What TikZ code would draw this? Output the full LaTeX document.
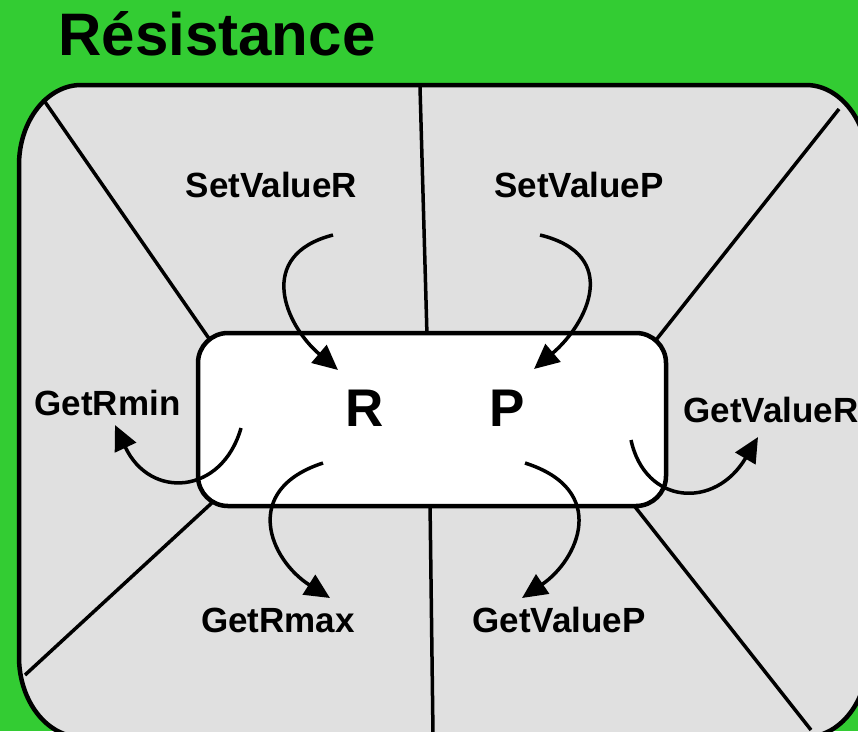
\documentclass[tikz,border=0pt]{standalone}
\usepackage{fontspec}
\setmainfont{Liberation Sans}
\usetikzlibrary{arrows.meta}
\definecolor{bggreen}{RGB}{51,204,51}
\definecolor{panelgray}{RGB}{224,224,224}
\tikzset{
  lbl/.style={font=\bfseries\fontsize{35}{40}\selectfont, anchor=base, inner sep=0pt},
  big/.style={font=\bfseries\fontsize{53}{60}\selectfont, anchor=base, inner sep=0pt},
  divider/.style={line width=3.5pt},
  flow/.style={line width=3.5pt, -{Triangle[length=25pt,width=23pt]}},
}
\begin{document}
\begin{tikzpicture}[x=1pt,y=-1pt]
  \useasboundingbox (0,0) rectangle (858,731);
  \clip (0,0) rectangle (858,731);
  \fill[bggreen] (0,0) rectangle (858,731);

  % outer panel with elliptical corners
  \draw[line width=4.5pt, fill=panelgray]
    (81,85) -- (806,85)
    .. controls (840,85) and (868,121) .. (868,165)
    -- (868,657)
    .. controls (868,701) and (840,737) .. (806,737)
    -- (81,737)
    .. controls (47,737) and (19,701) .. (19,657)
    -- (19,165)
    .. controls (19,121) and (47,85) .. (81,85) -- cycle;

  % sector dividers
  \coordinate (tl0) at (43,99);   \coordinate (tl1) at (210,340);
  \coordinate (tm0) at (420,87);  \coordinate (tm1) at (427,336);
  \coordinate (tr0) at (839,109); \coordinate (tr1) at (656,340);
  \coordinate (bl0) at (25,675);  \coordinate (bl1) at (215,500);
  \coordinate (bm0) at (433,735); \coordinate (bm1) at (430,502);
  \coordinate (br0) at (811,730); \coordinate (br1) at (632,503);
  \draw[divider] (tl0) -- (tl1);
  \draw[divider] (tm0) -- (tm1);
  \draw[divider] (tr0) -- (tr1);
  \draw[divider] (bl0) -- (bl1);
  \draw[divider] (bm0) -- (bm1);
  \draw[divider] (br0) -- (br1);

  % central object
  \node[draw, line width=4.5pt, fill=white, rounded corners=30pt,
        minimum width=468pt, minimum height=173pt, inner sep=0pt]
        (box) at (432,419.5) {};
  \node[big] (R) at (365,426) {R};
  \node[big] (P) at (507,426) {P};

  % title and method labels
  \node[font=\bfseries\fontsize{60}{66}\selectfont, anchor=base, inner sep=0pt]
        (title) at (217,55) {Résistance};
  \node[lbl] (setR) at (271.5,197) {SetValueR};
  \node[lbl] (setP) at (579,197) {SetValueP};
  \node[lbl] (rmin) at (107.5,415) {GetRmin};
  \node[lbl] (getR) at (771,422) {GetValueR};
  \node[lbl] (rmax) at (278,632) {GetRmax};
  \node[lbl] (getP) at (559,632) {GetValueP};

  % arrow end points
  \coordinate (aSR) at (333,235); \coordinate (bSR) at (338,370);
  \coordinate (aSP) at (540,235); \coordinate (bSP) at (534,369);
  \coordinate (aMin) at (241,428); \coordinate (bMin) at (115,425);
  \coordinate (aGR) at (631,440); \coordinate (bGR) at (758,437);
  \coordinate (aMax) at (323,463); \coordinate (bMax) at (330,598);
  \coordinate (aGP) at (525,463); \coordinate (bGP) at (522,598);

  \draw[flow] (aSR) .. controls (255,255) and (285,325) .. (bSR);
  \draw[flow] (aSP) .. controls (622,255) and (587,324) .. (bSP);
  \draw[flow] (aMin) .. controls (222,495) and (150,500) .. (bMin);
  \draw[flow] (aGR) .. controls (645,505) and (715,510) .. (bGR);
  \draw[flow] (aMax) .. controls (240,490) and (270,560) .. (bMax);
  \draw[flow] (aGP) .. controls (610,490) and (578,560) .. (bGP);
\end{tikzpicture}
\end{document}
